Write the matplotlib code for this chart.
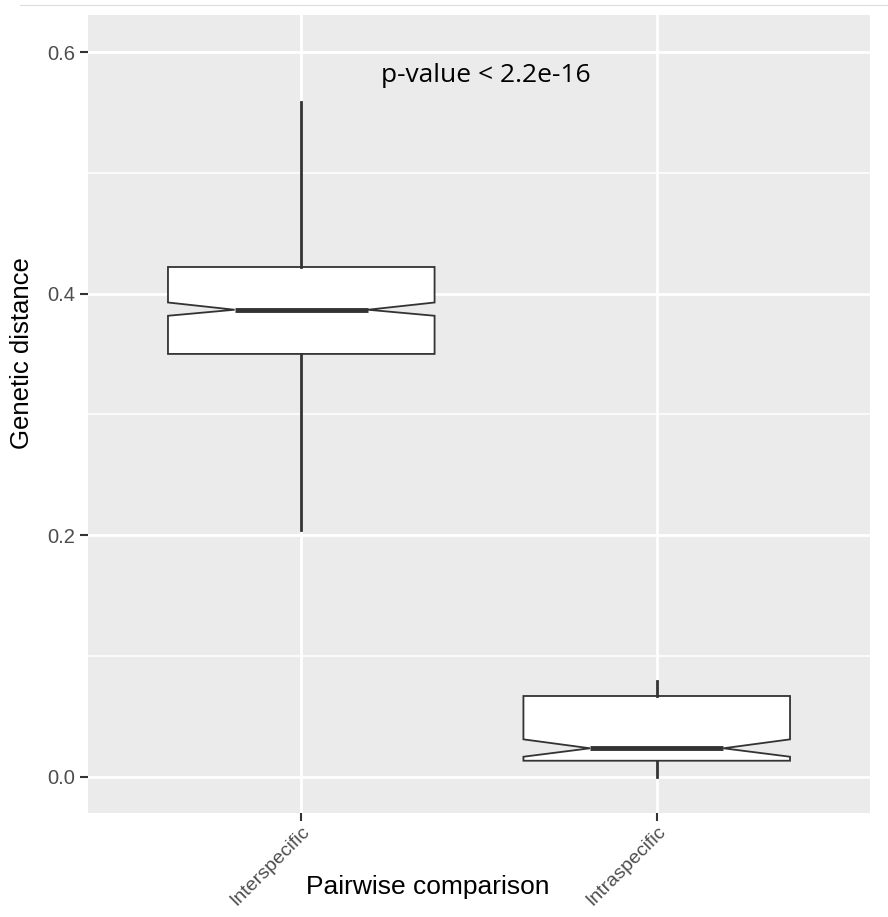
import matplotlib
matplotlib.use("Agg")
import matplotlib.pyplot as plt
from matplotlib.lines import Line2D

categories = ["Interspecific", "Intraspecific"]
whisker_low = [0.204, 0.0]
q1 = [0.350, 0.0131]
median = [0.3866, 0.0234]
q3 = [0.422, 0.0667]
whisker_high = [0.559, 0.0794]
notch_low = [0.3816, 0.0164]
notch_high = [0.3926, 0.0308]
y_ticks = [0.0, 0.2, 0.4, 0.6]
y_minor = [0.1, 0.3, 0.5]
annotation = "p-value < 2.2e-16"

W, H = 888, 917
fig = plt.figure(figsize=(W / 100, H / 100), dpi=100)
ax = fig.add_axes([88 / W, 1 - 813 / H, (870 - 88) / W, (813 - 15) / H])
ax.set_facecolor("#EBEBEB")
for s in ax.spines.values():
    s.set_visible(False)

positions = list(range(1, len(categories) + 1))
for yv in y_minor:
    ax.axhline(yv, color="white", lw=1.1, zorder=0)
for yv in y_ticks:
    ax.axhline(yv, color="white", lw=2.0, zorder=0)
for xv in positions:
    ax.axvline(xv, color="white", lw=2.0, zorder=0)

stats = []
for i in range(len(categories)):
    stats.append(dict(med=median[i], q1=q1[i], q3=q3[i], whislo=whisker_low[i],
                      whishi=whisker_high[i], cilo=notch_low[i], cihi=notch_high[i],
                      fliers=[], label=categories[i]))

ax.bxp(stats, positions=positions, widths=0.75, shownotches=True, showcaps=False,
       showfliers=False, patch_artist=True,
       boxprops=dict(facecolor="white", edgecolor="#333333", linewidth=1.3),
       whiskerprops=dict(color="#333333", linewidth=2.0),
       medianprops=dict(color="#333333", linewidth=3.5, solid_capstyle="butt"),
       zorder=2)

ax.set_xlim(0.4, 2.6)
ax.set_ylim(-0.0302, 0.6307)
ax.set_yticks(y_ticks)
ax.set_yticklabels(["0.0", "0.2", "0.4", "0.6"])
ax.set_xticks(positions)
ax.set_xticklabels(categories, rotation=45, ha="right", va="top",
                   rotation_mode="anchor")
ax.tick_params(axis="both", colors="#333333", length=6, width=1.5,
               labelcolor="#4D4D4D")
ax.tick_params(axis="y", pad=3)
ax.tick_params(axis="x", pad=1)
for lab in ax.get_yticklabels():
    lab.set_fontfamily("Liberation Sans")
    lab.set_fontsize(14.5)
for lab in ax.get_xticklabels():
    lab.set_fontfamily("Liberation Sans")
    lab.set_fontsize(14)

ax.text(1.52, 0.581, annotation, ha="center", va="center", fontsize=19,
        family="Open Sans", color="black")

fig.text(22 / W, 1 - 353 / H, "Genetic distance", rotation=90, ha="center",
         va="center", fontsize=18.5, family="Liberation Sans", color="black")
fig.text(428 / W, 1 - 887 / H, "Pairwise comparison", ha="center", va="center",
         fontsize=19, family="Liberation Sans", color="black")

fig.add_artist(Line2D([20 / W, 1], [1 - 5 / H, 1 - 5 / H], transform=fig.transFigure,
                      color="#DDDDDD", lw=0.8))

fig.savefig("out.png", dpi=100, facecolor="white")
